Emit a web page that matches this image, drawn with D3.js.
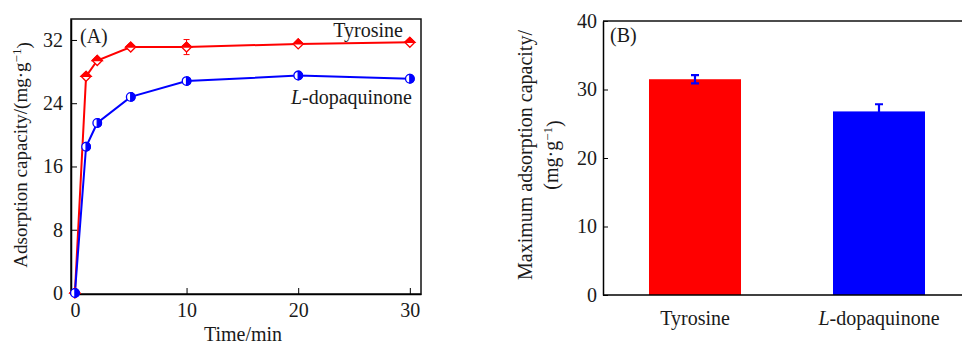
<!DOCTYPE html>
<html>
<head>
<meta charset="utf-8">
<script src="https://cdn.jsdelivr.net/npm/d3@7"></script>
<style>
body { margin: 0; background: #fff; }
svg text { font-family: "Liberation Serif", "Times New Roman", serif; fill: #1a1a1a; }
</style>
</head>
<body>
<svg id="chart" width="962" height="346"></svg>
<script>
// panel A: adsorption kinetics
var times = [0, 1, 2, 5, 10, 20, 30];
var tyrosine = [0, 27.4, 29.4, 31.1, 31.1, 31.5, 31.7];
var tyrosineErr = [0, 0.3, 0.3, 0.3, 0.95, 0.3, 0.2];
var dopaquinone = [0, 18.5, 21.5, 24.8, 26.8, 27.5, 27.1];
var dopaquinoneErr = [0, 0.3, 0.3, 0.3, 0.3, 0.3, 0.3];
var xTicksA = [0, 10, 20, 30];
var yTicksA = [0, 8, 16, 24, 32];

// panel B: maximum adsorption capacity
var categories = ["Tyrosine", "L-dopaquinone"];
var maxCapacity = [31.5, 26.8];
var maxCapacityErr = [0.6, 1.05];
var yTicksB = [0, 10, 20, 30, 40];

var red = "#ff0000", blue = "#0000ff";
var svg = d3.select("#chart");
var fs = 20;

// ---------- panel A ----------
var xA = d3.scaleLinear().domain([-0.35, 31]).range([71, 421]);
var yA = d3.scaleLinear().domain([0, 34.65]).range([293, 19]);

var gA = svg.append("g");

gA.append("rect")
	.attr("x", 71).attr("y", 19)
	.attr("width", 350).attr("height", 275)
	.style("fill", "none").style("stroke", "#111").style("stroke-width", 1.5);

gA.append("g")
	.attr("transform", "translate(0,294)")
	.call(d3.axisBottom(xA).tickValues(xTicksA).tickSizeInner(-6).tickSizeOuter(0).tickPadding(6))
	.call(function (g) {
		g.select(".domain").style("stroke-width", 1.5);
		g.selectAll("text").style("font-size", fs + "px").attr("dy", "0.85em");
	});

gA.append("g")
	.attr("transform", "translate(71,0)")
	.call(d3.axisLeft(yA).tickValues(yTicksA).tickSizeInner(-6).tickSizeOuter(0).tickPadding(8))
	.call(function (g) {
		g.select(".domain").style("stroke-width", 1.5);
		g.selectAll("text").style("font-size", fs + "px");
	});

var line = d3.line()
	.x(function (d) { return xA(d[0]); })
	.y(function (d) { return yA(d[1]); });

function drawSeries(values, errs, color) {
	var pts = times.map(function (t, i) { return [t, values[i], errs[i]]; });
	gA.append("path")
		.datum(pts)
		.attr("d", line)
		.style("fill", "none")
		.style("stroke", color)
		.style("stroke-width", 2);
	gA.append("g").selectAll("path")
		.data(pts)
		.enter().append("path")
		.attr("d", function (d) {
			var x = xA(d[0]), y0 = yA(d[1] - d[2]), y1 = yA(d[1] + d[2]);
			return "M" + (x - 3) + "," + y0 + "H" + (x + 3) + "M" + x + "," + y0 + "V" + y1 + "M" + (x - 3) + "," + y1 + "H" + (x + 3);
		})
		.style("stroke", color).style("stroke-width", 1).style("fill", "none");
	return pts;
}

var tyrPts = drawSeries(tyrosine, tyrosineErr, red);
var dopPts = drawSeries(dopaquinone, dopaquinoneErr, blue);

// half-filled diamonds for tyrosine
var dia = gA.append("g").selectAll("g")
	.data(tyrPts)
	.enter().append("g")
	.attr("transform", function (d) { return "translate(" + xA(d[0]) + "," + yA(d[1]) + ")"; });
dia.append("path").attr("d", "M-5,0L0,-5L5,0L0,5Z").style("fill", "#fff").style("stroke", red).style("stroke-width", 1.3);
dia.append("path").attr("d", "M-5,0L0,-5L5,0Z").style("fill", red).style("stroke", red).style("stroke-width", 1.3);

// half-filled circles for L-dopaquinone
var circ = gA.append("g").selectAll("g")
	.data(dopPts)
	.enter().append("g")
	.attr("transform", function (d) { return "translate(" + xA(d[0]) + "," + yA(d[1]) + ")"; });
circ.append("circle").attr("r", 4.3).style("fill", "#fff").style("stroke", blue).style("stroke-width", 1.3);
circ.append("path").attr("d", "M0,-4.3A4.3,4.3 0 0 1 0,4.3Z").style("fill", blue).style("stroke", blue).style("stroke-width", 1.3);

gA.append("text").attr("x", 80).attr("y", 43).style("font-size", fs + "px").text("(A)");
gA.append("text").attr("x", 403).attr("y", 37).attr("text-anchor", "end").style("font-size", fs + "px").text("Tyrosine");
var lbl = gA.append("text").attr("x", 412).attr("y", 104).attr("text-anchor", "end").style("font-size", fs + "px");
lbl.append("tspan").style("font-style", "italic").text("L");
lbl.append("tspan").text("-dopaquinone");

gA.append("text").attr("x", 243).attr("y", 341).attr("text-anchor", "middle").style("font-size", fs + "px").text("Time/min");

var yLabA = gA.append("text")
	.attr("transform", "translate(27,155) rotate(-90)")
	.attr("text-anchor", "middle")
	.style("font-size", "19px");
yLabA.append("tspan").text("Adsorption capacity/(mg·g");
yLabA.append("tspan").attr("dy", "-0.45em").style("font-size", "13px").text("−1");
yLabA.append("tspan").attr("dy", "0.45em").text(")");

// ---------- panel B ----------
var xB = d3.scaleBand().domain(categories).range([603, 971]).paddingInner(0.5).paddingOuter(0.25);
var yB = d3.scaleLinear().domain([0, 40]).range([295, 21]);

var gB = svg.append("g");

gB.selectAll("rect.bar")
	.data(categories)
	.enter().append("rect")
	.attr("class", "bar")
	.attr("x", function (d) { return xB(d); })
	.attr("y", function (d, i) { return yB(maxCapacity[i]); })
	.attr("width", xB.bandwidth())
	.attr("height", function (d, i) { return yB(0) - yB(maxCapacity[i]); })
	.style("fill", function (d, i) { return i == 0 ? red : blue; });

gB.selectAll("path.err")
	.data(categories)
	.enter().append("path")
	.attr("class", "err")
	.attr("d", function (d, i) {
		var x = xB(d) + xB.bandwidth() / 2;
		var y0 = yB(maxCapacity[i] - maxCapacityErr[i]), y1 = yB(maxCapacity[i] + maxCapacityErr[i]);
		return "M" + (x - 4) + "," + y0 + "H" + (x + 4) + "M" + x + "," + y0 + "V" + y1 + "M" + (x - 4) + "," + y1 + "H" + (x + 4);
	})
	.style("stroke", blue).style("stroke-width", 2.2).style("fill", "none");

gB.append("g")
	.attr("transform", "translate(603,0)")
	.call(d3.axisLeft(yB).tickValues(yTicksB).tickSizeInner(-5).tickSizeOuter(0).tickPadding(6))
	.call(function (g) {
		g.select(".domain").style("stroke-width", 1.5);
		g.selectAll("text").style("font-size", fs + "px");
	});

gB.append("line").attr("x1", 603).attr("x2", 962).attr("y1", 21).attr("y2", 21)
	.style("stroke", "#111").style("stroke-width", 1.5);

gB.append("g")
	.attr("transform", "translate(0,295)")
	.call(d3.axisBottom(xB).tickSize(0).tickPadding(12))
	.call(function (g) {
		g.select(".domain").attr("d", "M603,0H962").style("stroke-width", 1.5);
		g.selectAll("text").style("font-size", fs + "px").attr("dy", "0.9em")
			.text(null)
			.each(function (d) {
				var t = d3.select(this);
				if (d.charAt(0) == "L") {
					t.append("tspan").style("font-style", "italic").text("L");
					t.append("tspan").text(d.slice(1));
				} else {
					t.append("tspan").text(d);
				}
			});
	});

gB.append("text").attr("x", 610).attr("y", 42).style("font-size", fs + "px").text("(B)");

gB.append("text")
	.attr("transform", "translate(532,155) rotate(-90)")
	.attr("text-anchor", "middle")
	.style("font-size", fs + "px")
	.text("Maximum adsorption capacity/");
var yLabB = gB.append("text")
	.attr("transform", "translate(558,155) rotate(-90)")
	.attr("text-anchor", "middle")
	.style("font-size", fs + "px");
yLabB.append("tspan").text("(mg·g");
yLabB.append("tspan").attr("dy", "-0.45em").style("font-size", "13px").text("−1");
yLabB.append("tspan").attr("dy", "0.45em").text(")");
</script>
</body>
</html>
